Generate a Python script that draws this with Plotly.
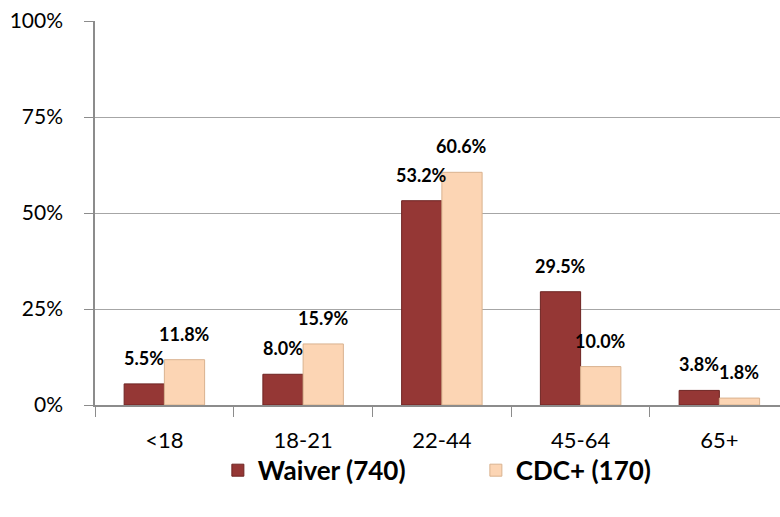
import plotly.graph_objects as go

# Age groups and share of clients per program (percent)
age_groups = ["<18", "18-21", "22-44", "45-64", "65+"]
waiver_pct = [5.5, 8.0, 53.2, 29.5, 3.8]
cdc_pct = [11.8, 15.9, 60.6, 10.0, 1.8]
series_names = ["Waiver (740)", "CDC+ (170)"]
y_ticks = [0, 25, 50, 75, 100]
y_tick_labels = ["0%", "25%", "50%", "75%", "100%"]

FONT = "Lato, 'Open Sans', sans-serif"
BAR_GAP = 0.42
HALF = (1 - BAR_GAP) / 4  # offset of each bar centre from the category centre

fig = go.Figure()
fig.add_trace(go.Bar(
    x=age_groups, y=waiver_pct, name=series_names[0],
    marker=dict(color="#953735", line=dict(color="#6e2422", width=1)),
))
fig.add_trace(go.Bar(
    x=age_groups, y=cdc_pct, name=series_names[1],
    marker=dict(color="#fcd5b4", line=dict(color="#d9b28f", width=1)),
))

# value labels above each bar
for offset, values in ((-HALF, waiver_pct), (HALF, cdc_pct)):
    for i, v in enumerate(values):
        fig.add_annotation(
            x=i + offset, y=v, xref="x", yref="y",
            text=f"<b>{v:.1f}%</b>", showarrow=False,
            yanchor="bottom", yshift=13,
            font=dict(family=FONT, size=18, color="black"),
        )

fig.update_layout(
    width=780, height=517,
    margin=dict(l=95, r=0, t=21, b=112),
    paper_bgcolor="white", plot_bgcolor="white",
    barmode="group", bargap=BAR_GAP, bargroupgap=0,
    font=dict(family=FONT, size=22, color="black"),
    legend=dict(
        orientation="h", x=0.556, xanchor="center", y=-0.17, yanchor="middle",
        bgcolor="rgba(0,0,0,0)",
        font=dict(family=FONT, size=26, color="black", weight="bold"),
        itemwidth=30, entrywidth=213, traceorder="normal",
    ),
    showlegend=True,
)
fig.update_xaxes(
    type="category", range=[-0.5, 4.437],
    showline=True, linecolor="#8c8c8c", linewidth=1.5,
    ticks="outside", tickson="boundaries", ticklen=10, tickcolor="#8c8c8c",
    ticklabelstandoff=15, showgrid=False,
    tickfont=dict(family=FONT, size=22),
)
fig.update_yaxes(
    range=[0, 100], tickvals=y_ticks, ticktext=y_tick_labels,
    showline=True, linecolor="#8c8c8c", linewidth=1.5,
    ticks="outside", ticklen=9, tickcolor="#8c8c8c",
    ticklabelstandoff=17,
    showgrid=True, gridcolor="#a6a6a6", gridwidth=1, zeroline=False,
    tickfont=dict(family=FONT, size=21),
)

fig.write_html("out.html")
